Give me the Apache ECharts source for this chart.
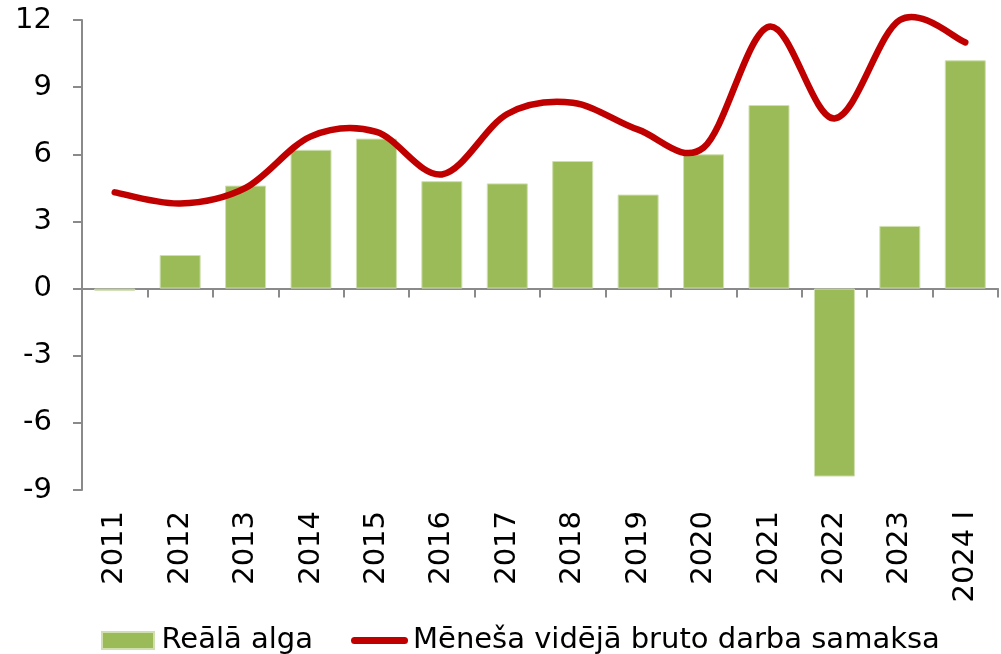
<!DOCTYPE html>
<html>
<head>
<meta charset="utf-8">
<title>Reālā alga</title>
<script src="https://cdn.jsdelivr.net/npm/echarts@6/dist/echarts.min.js"></script>
<style>
  html, body { margin: 0; padding: 0; background: #fff; }
  #chart { width: 1001px; height: 654px; }
</style>
</head>
<body>
<div id="chart"></div>
<script>
// dati
const categories = ['2011', '2012', '2013', '2014', '2015', '2016', '2017', '2018', '2019', '2020', '2021', '2022', '2023', '2024 I']
const realaAlga = [-0.1, 1.5, 4.6, 6.2, 6.7, 4.8, 4.7, 5.7, 4.2, 6.0, 8.2, -8.4, 2.8, 10.2]
const brutoSamaksa = [4.3, 3.8, 4.5, 6.8, 7.0, 5.1, 7.8, 8.3, 7.1, 6.3, 11.7, 7.6, 12.0, 11.0]
const yTicks = [-9, -6, -3, 0, 3, 6, 9, 12]
const seriesNames = ['Reālā alga', 'Mēneša vidējā bruto darba samaksa']

const FONT = '"DejaVu Sans", sans-serif'
const FONT_SIZE = 29
const AXIS_COLOR = '#8a8a8a'
const LINE_COLOR = '#c00000'

const chart = echarts.init(document.getElementById('chart'))

// Excel-style smoothed line (Catmull-Rom -> bezier), points come from api.coord
const renderSmoothLine = (params, api) => {
  if (params.dataIndex !== 0) return null
  const pts = brutoSamaksa.map((v, i) => api.coord([i, v]))
  const n = pts.length
  let d = `M${pts[0][0]},${pts[0][1]}`
  for (let i = 0; i < n - 1; i++) {
    const p0 = pts[Math.max(i - 1, 0)]
    const p1 = pts[i]
    const p2 = pts[i + 1]
    const p3 = pts[Math.min(i + 2, n - 1)]
    const c1x = p1[0] + (p2[0] - p0[0]) / 6
    const c1y = p1[1] + (p2[1] - p0[1]) / 6
    const c2x = p2[0] - (p3[0] - p1[0]) / 6
    const c2y = p2[1] - (p3[1] - p1[1]) / 6
    d += ` C${c1x},${c1y} ${c2x},${c2y} ${p2[0]},${p2[1]}`
  }
  return {
    type: 'path',
    shape: { pathData: d },
    style: {
      fill: 'none',
      stroke: LINE_COLOR,
      lineWidth: 6.5,
      lineCap: 'round',
      lineJoin: 'round'
    }
  }
}

const option = {
  backgroundColor: '#fff',
  animation: false,
  textStyle: { fontFamily: FONT },
  grid: {
    left: 82,
    right: 3,
    top: 20,
    bottom: 164,
    containLabel: false
  },
  legend: {
    left: 96,
    top: 621,
    itemWidth: 57,
    itemHeight: 17,
    itemGap: 38,
    textStyle: { fontFamily: FONT, fontSize: FONT_SIZE, color: '#000' },
    data: [
      { name: seriesNames[0], icon: 'path://M0,0 H52 V17 H0 Z', itemStyle: { color: '#9bbb59' } },
      { name: seriesNames[1], icon: 'path://M3.5,0 H53.5 A3.5,3.5 0 0 1 53.5,7 H3.5 A3.5,3.5 0 0 1 3.5,0 Z', itemStyle: { color: LINE_COLOR } }
    ]
  },
  xAxis: [
    {
      type: 'category',
      data: categories,
      position: 'bottom',
      axisLine: { show: false, onZero: false },
      axisTick: { show: false },
      axisLabel: {
        rotate: 90,
        margin: 21,
        interval: 0,
        fontFamily: FONT,
        fontSize: FONT_SIZE,
        color: '#000'
      }
    },
    {
      type: 'category',
      data: categories,
      position: 'bottom',
      axisLine: { show: true, onZero: true, lineStyle: { color: AXIS_COLOR, width: 2 } },
      axisTick: { show: true, length: 9, lineStyle: { color: AXIS_COLOR, width: 2 } },
      axisLabel: { show: false }
    }
  ],
  yAxis: {
    type: 'value',
    min: yTicks[0],
    max: yTicks[yTicks.length - 1],
    interval: 3,
    axisLine: { show: true, lineStyle: { color: AXIS_COLOR, width: 2 } },
    axisTick: { show: true, length: 9, lineStyle: { color: AXIS_COLOR, width: 2 } },
    splitLine: { show: false },
    axisLabel: {
      margin: 30,
      fontFamily: FONT,
      fontSize: FONT_SIZE,
      color: '#000'
    }
  },
  series: [
    {
      name: seriesNames[0],
      type: 'bar',
      xAxisIndex: 0,
      data: realaAlga,
      barWidth: 41,
      itemStyle: {
        color: '#9bbb59',
        borderColor: '#cfdfae',
        borderWidth: 1
      },
      z: 2
    },
    {
      name: seriesNames[1],
      type: 'custom',
      xAxisIndex: 0,
      data: brutoSamaksa,
      renderItem: renderSmoothLine,
      itemStyle: { color: LINE_COLOR },
      clip: false,
      z: 3
    }
  ]
}

chart.setOption(option)

window.addEventListener('resize', () => {
  chart.resize()
})
</script>
</body>
</html>
